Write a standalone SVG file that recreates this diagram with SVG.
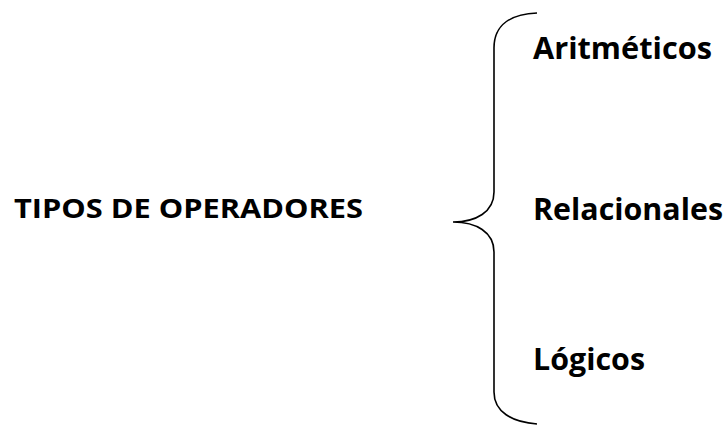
<svg xmlns="http://www.w3.org/2000/svg" width="727" height="428" viewBox="0 0 727 428">
  <style>
    .lbl { font-family: "Open Sans", "Liberation Sans", sans-serif; font-weight: bold; fill: #000; }
    .main { font-size: 27.5px; }
    .item { font-size: 30px; }
    .brace { fill: none; stroke: #000; stroke-width: 1.6; }
  </style>
  <rect width="727" height="428" fill="#fff"/>
  <g id="root">
    <text class="lbl main" x="14" y="217.5" textLength="349" lengthAdjust="spacingAndGlyphs">TIPOS DE OPERADORES</text>
  </g>
  <g id="connectors">
    <path class="brace" d="M537,13 C512,14 494,24 494,48 L494,192 C494,212 476,222 453,222 C476,222 494,232 494,252 L494,392 C494,412 512,422 537,424"/>
  </g>
  <g id="aritmeticos">
    <text class="lbl item" x="533" y="59" textLength="179" lengthAdjust="spacingAndGlyphs">Aritméticos</text>
  </g>
  <g id="relacionales">
    <text class="lbl item" x="533" y="220" textLength="190" lengthAdjust="spacingAndGlyphs">Relacionales</text>
  </g>
  <g id="logicos">
    <text class="lbl item" x="533" y="370" textLength="112" lengthAdjust="spacingAndGlyphs">Lógicos</text>
  </g>
</svg>
